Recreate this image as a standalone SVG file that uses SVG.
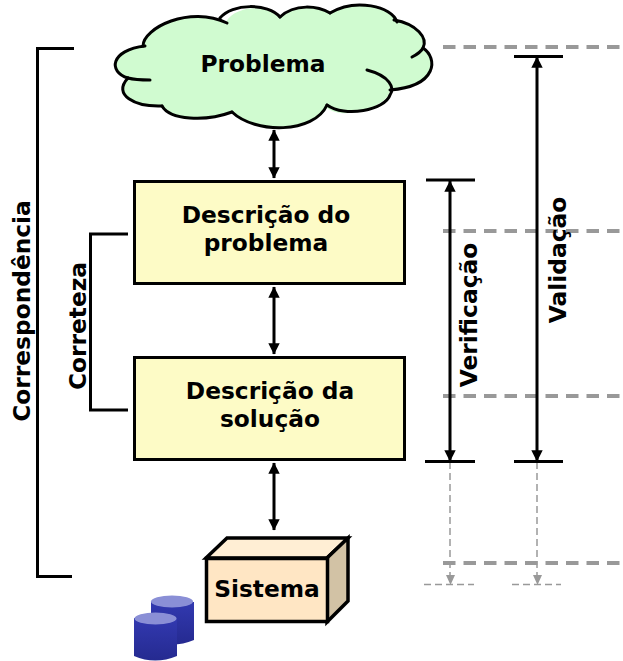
<svg xmlns="http://www.w3.org/2000/svg" width="623" height="661" viewBox="0 0 623 661">
<style>
.t{font-family:"DejaVu Sans",Verdana,sans-serif;font-weight:700;font-size:23.300px;fill:#000;text-anchor:middle}
.box{fill:#fdfbc6;stroke:#000;stroke-width:3}
.br{fill:none;stroke:#000;stroke-width:3}
.dash{fill:none;stroke:#999;stroke-width:4;stroke-dasharray:12.500 8}
.thin{fill:none;stroke:#999;stroke-width:1.500;stroke-dasharray:7 4}
.a{fill:none;stroke:#000;stroke-width:3}
.can{fill:url(#cg)}
.cl{fill:none;stroke:#000;stroke-width:3;stroke-linecap:round}
</style>
<defs>
<marker id="ah" viewBox="0 0 10 10" refX="9.500" refY="5" markerWidth="3.800" markerHeight="3.800" orient="auto-start-reverse"><path d="M0 0L10 5L0 10Z" fill="#000"/></marker>
<linearGradient id="cg" x1="0" x2="0" y1="0" y2="1"><stop offset="0" stop-color="#3239b0"/><stop offset="1" stop-color="#252a90"/></linearGradient>
</defs>
<g id="guides">
<path class="dash" d="M443 47H622M443 231H622M443 396H622M443 563H622"/>
<path class="thin" d="M450 462V576M537 462V576"/>
<path class="thin" d="M424 584.500H474M512 584.500H561"/>
<path d="M446 575h9l-4.500 10zM533 575h9l-4.500 10z" fill="#999"/>
</g>
<g id="connectors">
<path class="a" d="M274 130V178" marker-start="url(#ah)" marker-end="url(#ah)"/>
<path class="a" d="M274 287V354" marker-start="url(#ah)" marker-end="url(#ah)"/>
<path class="a" d="M274 463V530" marker-start="url(#ah)" marker-end="url(#ah)"/>
<path class="a" d="M450 181V461" marker-start="url(#ah)" marker-end="url(#ah)"/>
<path class="a" d="M537 57V461" marker-start="url(#ah)" marker-end="url(#ah)"/>
<path class="br" d="M426 180H475M425 461.500H475M514 56.500H563M514 461.500H563"/>
<path class="br" d="M74 48.500H37.500V576.500H72"/>
<path class="br" d="M128 234H90.500V410H128"/>
</g>
<g id="problema">
<path d="M143 46C143 28 185 5 226 22C235 5 268 4 280 17C295 3 318 6 330 13C355 -2 392 8 397 21C417 26 428 38 423 48C437 58 438 85 390 90C390 105 345 122 327 108C312 133 255 133 232 112C205 122 170 120 162 106C135 107 112 95 128 78C110 72 112 50 143 46Z" fill="#d0fbd0"/>
<path class="cl" d="M143 46C143 28 190 5 227 23"/>
<path class="cl" d="M220 18C232 3 268 3 280 17"/>
<path class="cl" d="M280 17C295 3 318 6 330 13"/>
<path class="cl" d="M330 13C355 -2 392 6 397 22"/>
<path class="cl" d="M394 20C417 24 428 38 423 48C422 50 418 54 412 57"/>
<path class="cl" d="M423 48C438 58 438 86 390 90"/>
<path class="cl" d="M367 70C390 76 395 88 390 95C385 110 345 118 327 105"/>
<path class="cl" d="M327 105C314 134 255 134 232 112"/>
<path class="cl" d="M232 112C205 122 170 120 162 106"/>
<path class="cl" d="M162 106C135 107 112 95 128 78"/>
<path class="cl" d="M128 78C135 80 142 80 150 80"/>
<path class="cl" d="M128 78C108 72 110 50 145 46"/>
<text class="t" x="263" y="72">Problema</text>
</g>
<g id="descricao-problema">
<rect class="box" x="134.500" y="181.500" width="270" height="102"/>
<text class="t" x="266" y="223">Descrição do</text>
<text class="t" x="266" y="251">problema</text>
</g>
<g id="descricao-solucao">
<rect class="box" x="134.500" y="357.500" width="270" height="102"/>
<text class="t" x="270" y="399">Descrição da</text>
<text class="t" x="270" y="427">solução</text>
</g>
<g id="sistema">
<path d="M206 558L227 538H348L327 558Z" fill="#ffeed4" stroke="#000" stroke-width="3.500"/>
<path d="M327 558L348 538V601L327 622Z" fill="#d2c2a5" stroke="#000" stroke-width="3.500"/>
<rect x="206.500" y="558.500" width="121" height="63" fill="#ffe6c4" stroke="#000" stroke-width="3.500"/>
<text class="t" x="267" y="597">Sistema</text>
</g>
<g id="banco">
<path class="can" d="M151 602V640Q172 649 194 640V602Z"/>
<ellipse cx="172" cy="601.500" rx="21" ry="6" fill="#8a8fd6"/>
<path class="can" d="M134 618V656Q155 665 177 656V618Z"/>
<ellipse cx="155.500" cy="618.500" rx="21" ry="6" fill="#8a8fd6"/>
</g>
<g id="labels">
<text class="t" transform="translate(30 311) rotate(-90)">Correspondência</text>
<text class="t" transform="translate(86 326) rotate(-90)">Correteza</text>
<text class="t" transform="translate(477 315) rotate(-90)">Verificação</text>
<text class="t" transform="translate(566 260) rotate(-90)">Validação</text>
</g>
</svg>
